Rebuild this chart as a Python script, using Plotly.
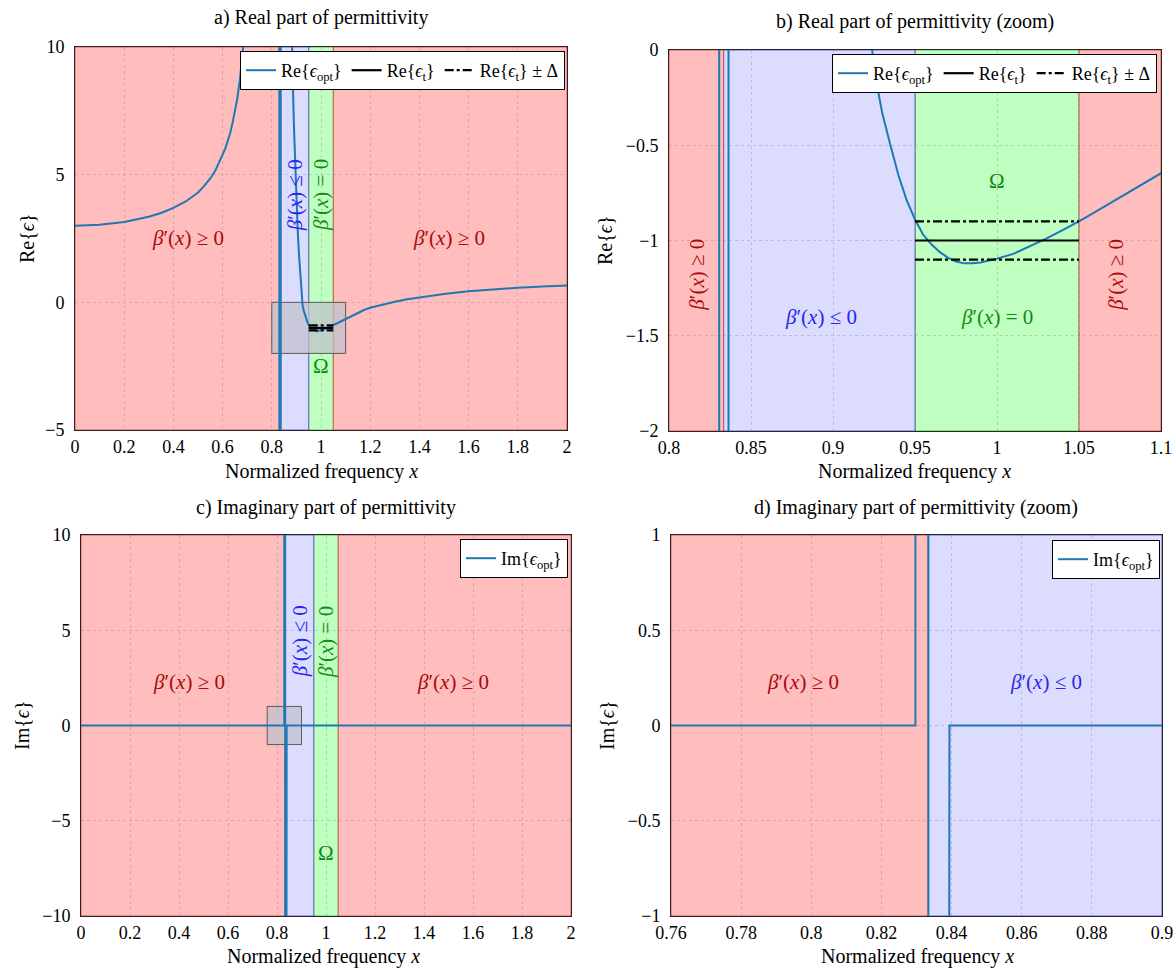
import plotly.graph_objects as go

# ---------------- data ----------------
# Real part of optimal permittivity (read from panels a and b)
x_re = [0.0, 0.1, 0.2, 0.3, 0.35, 0.4, 0.45, 0.5, 0.52, 0.55, 0.57, 0.58, 0.6, 0.61, 0.62, 0.63,
        0.64, 0.65, 0.66, 0.67, 0.68, 0.69, 0.70, 0.72, 0.75, 0.8, 0.8306, 0.8306, 0.8363,
        0.8363, 0.86, 0.87, 0.875, 0.88, 0.885, 0.89, 0.895, 0.9, 0.905, 0.91, 0.915, 0.92,
        0.925, 0.93, 0.935, 0.94, 0.945, 0.95, 0.955, 0.96, 0.965, 0.97, 0.975, 0.98, 0.985,
        0.99, 0.995, 1.0, 1.01, 1.02, 1.03, 1.04, 1.05, 1.06, 1.07, 1.08, 1.09, 1.1, 1.125,
        1.15, 1.175, 1.2, 1.25, 1.3, 1.35, 1.4, 1.5, 1.6, 1.7, 1.8, 1.9, 2.0]
re_opt = [3.0, 3.04, 3.15, 3.35, 3.5, 3.7, 3.95, 4.3, 4.5, 4.85, 5.15, 5.35, 5.75, 6.0, 6.3, 6.6,
          7.0, 7.45, 8.0, 8.7, 9.55, 10.6, 12.0, 16.0, 25.0, 60.0, 200.0, -200.0, -200.0,
          200.0, 30.0, 18.0, 14.0, 11.0, 8.8, 6.9, 5.3, 4.0, 2.9, 1.95, 1.1, 0.35,
          -0.1, -0.33, -0.5, -0.66, -0.79, -0.89, -0.97, -1.02, -1.06, -1.09, -1.11, -1.12,
          -1.12, -1.115, -1.105, -1.095, -1.07, -1.03, -0.99, -0.945, -0.9, -0.85, -0.80,
          -0.75, -0.70, -0.65, -0.52, -0.41, -0.30, -0.21, -0.08, 0.02, 0.12, 0.2, 0.33, 0.43,
          0.51, 0.57, 0.62, 0.66]

x_im = [0.0, 0.8297, 0.8297, 0.8334, 0.8334, 0.8394, 0.8394, 2.0]
im_opt = [0.0, 0.0, 100.0, 100.0, -100.0, -100.0, 0.0, 0.0]

# target permittivity and tolerance band over Omega
omega_x = [0.95, 1.05]
eps_t = [-1.0, -1.0]
eps_t_plus = [-0.9, -0.9]
eps_t_minus = [-1.1, -1.1]

# beta'(x) sign regions
region_edges = [0.0, 0.8333, 0.95, 1.05, 2.0]
region_kind = ["pos", "neg", "zero", "pos"]

# axis ranges (zoom windows)
full_x = [0.0, 2.0]
re_full_y = [-5.0, 10.0]
im_full_y = [-10.0, 10.0]
re_zoom_x = [0.8, 1.1]
re_zoom_y = [-2.0, 0.0]
im_zoom_x = [0.76, 0.9]
im_zoom_y = [-1.0, 1.0]

# tick values / labels
full_xticks = [0, 0.2, 0.4, 0.6, 0.8, 1.0, 1.2, 1.4, 1.6, 1.8, 2.0]
full_xtext = ["0", "0.2", "0.4", "0.6", "0.8", "1", "1.2", "1.4", "1.6", "1.8", "2"]
re_full_yticks = [-5, 0, 5, 10]
re_full_ytext = ["\u22125", "0", "5", "10"]
im_full_yticks = [-10, -5, 0, 5, 10]
im_full_ytext = ["\u221210", "\u22125", "0", "5", "10"]
re_zoom_xticks = [0.8, 0.85, 0.9, 0.95, 1.0, 1.05, 1.1]
re_zoom_xtext = ["0.8", "0.85", "0.9", "0.95", "1", "1.05", "1.1"]
re_zoom_yticks = [-2, -1.5, -1, -0.5, 0]
re_zoom_ytext = ["\u22122", "\u22121.5", "\u22121", "\u22120.5", "0"]
im_zoom_xticks = [0.76, 0.78, 0.8, 0.82, 0.84, 0.86, 0.88, 0.9]
im_zoom_xtext = ["0.76", "0.78", "0.8", "0.82", "0.84", "0.86", "0.88", "0.9"]
im_zoom_yticks = [-1, -0.5, 0, 0.5, 1]
im_zoom_ytext = ["\u22121", "\u22120.5", "0", "0.5", "1"]

# ---------------- styling ----------------
W, H = 1176, 969
FONT = "Liberation Serif"
BLUE = "#1f77b4"
fills = {"pos": ("#ffbdbd", "rgba(200,0,0,0.55)"),
         "neg": ("#dcdcff", "rgba(0,0,210,0.55)"),
         "zero": ("#bfffbf", "rgba(0,150,0,0.55)")}
TXT = {"pos": "#aa0a0a", "neg": "#2626f0", "zero": "#138a13"}

def px_x(p):
    return p / W

def px_y(p):
    return 1 - p / H

# panel pixel boxes: left, right, top, bottom
panels = {
    "a": dict(box=(75, 567, 47, 430), xr=full_x, yr=re_full_y, xt=(full_xticks, full_xtext),
              yt=(re_full_yticks, re_full_ytext)),
    "b": dict(box=(669, 1161, 50, 431), xr=re_zoom_x, yr=re_zoom_y, xt=(re_zoom_xticks, re_zoom_xtext),
              yt=(re_zoom_yticks, re_zoom_ytext)),
    "c": dict(box=(81, 571, 535, 916), xr=full_x, yr=im_full_y, xt=(full_xticks, full_xtext),
              yt=(im_full_yticks, im_full_ytext)),
    "d": dict(box=(671, 1162, 535, 916), xr=im_zoom_x, yr=im_zoom_y, xt=(im_zoom_xticks, im_zoom_xtext),
              yt=(im_zoom_yticks, im_zoom_ytext)),
}
axis_ids = {"a": "", "b": "2", "c": "3", "d": "4"}

fig = go.Figure()
layout = dict(width=W, height=H, margin=dict(l=0, r=0, t=0, b=0), template="none",
              paper_bgcolor="white", plot_bgcolor="white", showlegend=True,
              font=dict(family=FONT, size=18, color="black"))
shapes = []
annotations = []

for key, p in panels.items():
    l, r, t, b = p["box"]
    n = axis_ids[key]
    common = dict(showline=True, mirror=True, linecolor="#262626", linewidth=1,
                  showgrid=True, gridcolor="rgba(120,120,120,0.30)", griddash="3px,3px", gridwidth=1,
                  zeroline=False, ticks="", automargin=False, fixedrange=True,
                  tickfont=dict(family=FONT, size=18, color="black"))
    layout["xaxis" + n] = dict(domain=[px_x(l), px_x(r)], range=p["xr"], anchor="y" + n,
                               tickmode="array", tickvals=p["xt"][0], ticktext=p["xt"][1],
                               ticklabelstandoff=0, **common)
    layout["yaxis" + n] = dict(domain=[px_y(b), px_y(t)], range=p["yr"], anchor="x" + n,
                               tickmode="array", tickvals=p["yt"][0], ticktext=p["yt"][1],
                               ticklabelstandoff=6, **common)
    xref, yref = "x" + n, "y" + n
    # sign regions (green, blue, then red on top)
    for kind_order in ["zero", "neg", "pos"]:
        for i, kind in enumerate(region_kind):
            if kind != kind_order:
                continue
            x0 = max(region_edges[i], p["xr"][0])
            x1 = min(region_edges[i + 1], p["xr"][1])
            if x1 <= x0:
                continue
            fc, lc = fills[kind]
            shapes.append(dict(type="rect", xref=xref, yref=yref + " domain", x0=x0, x1=x1, y0=0, y1=1,
                               fillcolor=fc, line=dict(color=lc, width=1), layer="below"))

# zoom indicator boxes
for xr_, yr_, zx, zy in [("x", "y", re_zoom_x, re_zoom_y), ("x3", "y3", im_zoom_x, im_zoom_y)]:
    shapes.append(dict(type="rect", xref=xr_, yref=yr_, x0=zx[0], x1=zx[1], y0=zy[0], y1=zy[1],
                       fillcolor="rgba(192,192,204,0.72)",
                       line=dict(color="rgba(70,70,70,0.85)", width=1), layer="between"))

# ---------------- traces ----------------
lab_re_opt = "Re{<i>\u03f5</i><sub>opt</sub>}"
lab_re_t = "Re{<i>\u03f5</i><sub>t</sub>}"
lab_re_band = "Re{<i>\u03f5</i><sub>t</sub>} \u00b1 \u0394"
lab_im_opt = "Im{<i>\u03f5</i><sub>opt</sub>}"

band_x = omega_x + [None] + omega_x
band_y = eps_t_plus + [None] + eps_t_minus

for n, leg in [("", "legend"), ("2", "legend2")]:
    fig.add_trace(go.Scatter(x=x_re, y=re_opt, mode="lines", name=lab_re_opt,
                             line=dict(color=BLUE, width=2), xaxis="x" + n, yaxis="y" + n, legend=leg))
    fig.add_trace(go.Scatter(x=omega_x, y=eps_t, mode="lines", name=lab_re_t,
                             line=dict(color="black", width=2.2), xaxis="x" + n, yaxis="y" + n, legend=leg))
    fig.add_trace(go.Scatter(x=band_x, y=band_y, mode="lines", name=lab_re_band,
                             line=dict(color="black", width=2.2, dash="dashdot"), xaxis="x" + n,
                             yaxis="y" + n, legend=leg))
for n, leg in [("3", "legend3"), ("4", "legend4")]:
    fig.add_trace(go.Scatter(x=x_im, y=im_opt, mode="lines", name=lab_im_opt,
                             line=dict(color=BLUE, width=2), xaxis="x" + n, yaxis="y" + n, legend=leg))

legend_common = dict(xanchor="right", yanchor="top", bgcolor="white", bordercolor="black",
                     borderwidth=1, font=dict(family=FONT, size=18, color="black"),
                     itemclick=False, itemdoubleclick=False, tracegroupgap=0)
layout["legend"] = dict(x=px_x(565), y=px_y(51), orientation="h", **legend_common)
layout["legend2"] = dict(x=px_x(1157), y=px_y(54), orientation="h", **legend_common)
layout["legend3"] = dict(x=px_x(568), y=px_y(539), orientation="v", **legend_common)
layout["legend4"] = dict(x=px_x(1160), y=px_y(540), orientation="v", **legend_common)

# ---------------- text ----------------
def ann(text, x, y, xref, yref, color="black", size=20, angle=0):
    annotations.append(dict(text=text, x=x, y=y, xref=xref, yref=yref, showarrow=False,
                            font=dict(family=FONT, size=size, color=color), textangle=angle,
                            xanchor="center", yanchor="middle"))

titles = [("a) Real part of permittivity", 321, 17),
          ("b) Real part of permittivity (zoom)", 915, 21),
          ("c) Imaginary part of permittivity", 326, 507),
          ("d) Imaginary part of permittivity (zoom)", 916, 507)]
for t, cx, cy in titles:
    ann(t, px_x(cx), px_y(cy), "paper", "paper", size=20)

xtitle = "Normalized frequency <i>x</i>"
for cx, cy in [(321, 471), (915, 471), (324, 956), (917, 956)]:
    ann(xtitle, px_x(cx), px_y(cy), "paper", "paper", size=20)
for t, cx, cy in [("Re{<i>\u03f5</i>}", 27, 238), ("Re{<i>\u03f5</i>}", 605, 240),
                  ("Im{<i>\u03f5</i>}", 22, 725), ("Im{<i>\u03f5</i>}", 607, 725)]:
    ann(t, px_x(cx), px_y(cy), "paper", "paper", size=20, angle=-90)

ge = "<i>\u03b2</i>\u2032(<i>x</i>) \u2265 0"
le = "<i>\u03b2</i>\u2032(<i>x</i>) \u2264 0"
eq = "<i>\u03b2</i>\u2032(<i>x</i>) = 0"
LS = 21
# panel a
ann(ge, 0.46, 2.5, "x", "y", TXT["pos"], LS)
ann(ge, 1.52, 2.5, "x", "y", TXT["pos"], LS)
ann(le, 0.895, 4.2, "x", "y", TXT["neg"], LS, -90)
ann(eq, 1.0, 4.2, "x", "y", TXT["zero"], LS, -90)
ann("\u03a9", 1.0, -2.5, "x", "y", TXT["zero"], LS)
# panel b
ann(ge, 0.817, -1.18, "x2", "y2", TXT["pos"], LS, -90)
ann(ge, 1.0726, -1.18, "x2", "y2", TXT["pos"], LS, -90)
ann(le, 0.8925, -1.4, "x2", "y2", TXT["neg"], LS)
ann(eq, 1.0, -1.4, "x2", "y2", TXT["zero"], LS)
ann("\u03a9", 1.0, -0.69, "x2", "y2", TXT["zero"], LS)
# panel c
ann(ge, 0.44, 2.3, "x3", "y3", TXT["pos"], LS)
ann(ge, 1.52, 2.3, "x3", "y3", TXT["pos"], LS)
ann(le, 0.892, 4.4, "x3", "y3", TXT["neg"], LS, -90)
ann(eq, 0.9975, 4.4, "x3", "y3", TXT["zero"], LS, -90)
ann("\u03a9", 1.0, -6.7, "x3", "y3", TXT["zero"], LS)
# panel d
ann(ge, 0.7975, 0.23, "x4", "y4", TXT["pos"], LS)
ann(le, 0.867, 0.23, "x4", "y4", TXT["neg"], LS)

layout["shapes"] = shapes
layout["annotations"] = annotations
fig.update_layout(**layout)
fig.write_html("out.html")
